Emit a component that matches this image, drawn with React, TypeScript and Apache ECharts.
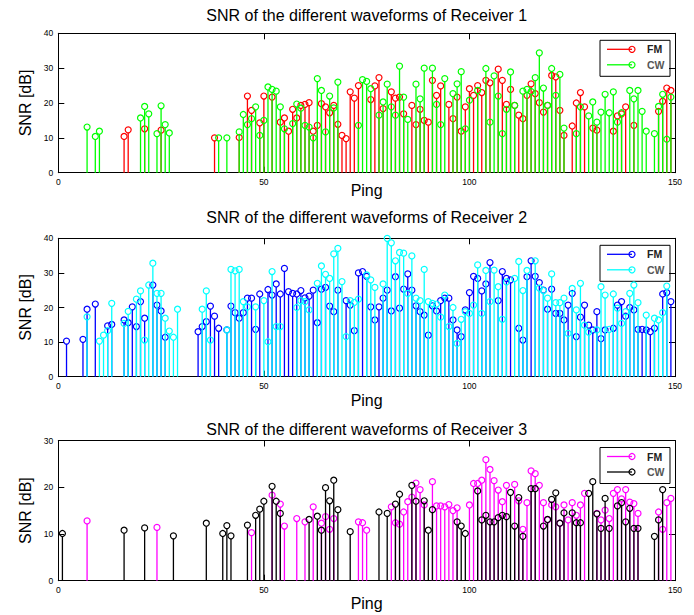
import React, { useEffect, useRef } from "react";
import * as echarts from "echarts";

// Ping axis ticks
const pingTicks = [0, 50, 100, 150];
const titles = [
  "SNR of the different waveforms of Receiver 1",
  "SNR of the different waveforms of Receiver 2",
  "SNR of the different waveforms of Receiver 3",
];
const legendNames = ["FM", "CW"];
const yMax = [40, 40, 30];

// Receiver 1 [ping, SNR dB]
const r1Fm: [number, number][] = [
  [16, 10.4], [17, 12.3], [21, 12.6], [25, 12.2], [38, 10], [44, 10.1], [46, 22], [47, 17.9], [49, 14.3], [50, 22],
  [52, 21.7], [54, 14.5], [55, 15.7], [56, 11.9], [57, 18.2], [58, 15.7], [59, 19.3], [60, 19.6], [61, 20.1], [62, 11.9],
  [63, 13.6], [64, 19.8], [65, 18.9], [66, 17.2], [67, 19.3], [68, 13.9], [69, 10.7], [70, 9.8], [71, 23.2], [72, 21.4],
  [73, 25], [76, 21], [77, 24.9], [78, 27.3], [79, 18.4], [81, 23.2], [82, 21.4], [83, 21.7], [84, 16.9], [86, 19.3],
  [87, 13.8], [88, 18.2], [89, 15], [90, 14.5], [91, 26.5], [92, 22.2], [93, 24.9], [95, 19.6], [96, 15.5], [97, 21.7],
  [98, 11.9], [99, 18.9], [100, 24.1], [101, 22.2], [102, 25], [103, 23], [104, 26.5], [105, 25.8], [107, 29.7], [108, 26.5],
  [109, 19.6], [110, 23.9], [111, 19.3], [112, 16.5], [113, 15.5], [114, 22.2], [115, 25.5], [116, 22.7], [117, 20.1], [118, 17.4],
  [119, 19.3], [120, 27.9], [121, 27.5], [122, 17.9], [123, 10.7], [125, 13.4], [126, 20], [127, 23], [128, 18.9], [130, 12.8],
  [131, 12.2], [135, 11.9], [136, 16.3], [137, 16.9], [138, 18.9], [140, 13.6], [146, 17.6], [147, 20.5], [148, 24.3], [149, 23.6],
];
const r1Cw: [number, number][] = [
  [7, 13.1], [9, 10.4], [10, 11.9], [20, 15.7], [21, 19], [22, 16.9], [24, 11.2], [25, 19.2], [26, 13.8], [27, 11.4],
  [39, 10], [41, 10], [44, 11.7], [45, 16.7], [46, 13.8], [47, 15.5], [48, 18.9], [49, 10.7], [50, 15], [51, 24.6],
  [52, 23.9], [53, 23.4], [54, 18.9], [55, 12.6], [57, 14.1], [58, 19.7], [59, 18.5], [60, 13.6], [61, 13.1], [62, 10],
  [63, 27], [64, 23.6], [65, 11.7], [66, 22], [67, 18.6], [68, 26], [73, 13.6], [74, 26.7], [75, 26.2], [76, 24.1],
  [78, 16.5], [79, 20.3], [80, 25.4], [81, 18.9], [82, 16.5], [83, 30.6], [84, 21.7], [85, 15.3], [87, 25.4], [88, 21.2],
  [89, 30], [91, 30], [92, 19.6], [93, 13.8], [94, 27], [96, 22.7], [97, 25.5], [98, 29], [99, 12.6], [100, 20.8],
  [102, 23.6], [104, 29.9], [105, 14.5], [106, 27.8], [107, 22], [108, 11.2], [109, 18.2], [110, 28.9], [111, 19.3], [113, 23.4],
  [114, 23.9], [115, 23.3], [116, 27.3], [117, 34.4], [118, 24.3], [119, 19.3], [120, 29.9], [121, 22.2], [122, 28.2], [123, 12.8],
  [126, 11.2], [127, 18.9], [129, 16.3], [130, 20.3], [131, 14.5], [132, 17.4], [133, 22.5], [134, 17.2], [135, 23.2], [136, 14.5],
  [137, 17.2], [139, 23.6], [140, 21.2], [141, 23.6], [142, 17.6], [143, 11.9], [145, 11.2], [146, 19], [147, 22.5], [148, 9.6],
  [149, 21.7],
];

// Receiver 2
const r2Fm: [number, number][] = [
  [2, 10.3], [6, 10.8], [7, 19.5], [9, 21], [12, 14.7], [13, 15.1], [16, 16.4], [17, 15.6], [18, 20.2], [19, 14.5],
  [20, 21.7], [21, 16.9], [23, 26.5], [24, 20.7], [25, 19], [26, 11.4], [34, 13], [35, 14.5], [36, 15.9], [37, 20.4],
  [38, 17.5], [39, 14], [41, 13.5], [42, 20.4], [43, 18.5], [44, 16.9], [45, 18.5], [46, 22.7], [47, 22.7], [48, 13.7],
  [49, 23.9], [51, 25.2], [52, 23.6], [53, 26.8], [54, 23.9], [55, 31.3], [56, 24.6], [57, 24.1], [58, 23.9], [59, 24.9],
  [60, 22.8], [61, 23.3], [62, 25], [63, 15.6], [64, 25.3], [65, 25.8], [66, 20.4], [67, 18.8], [68, 25], [70, 22],
  [71, 20.7], [72, 13.3], [73, 30], [74, 30.4], [75, 29], [76, 20.2], [77, 16.4], [78, 20.2], [79, 22.7], [80, 25],
  [81, 19], [82, 28.9], [83, 19.8], [84, 25.3], [85, 29.7], [86, 25], [87, 20.5], [88, 18.8], [89, 17.8], [90, 12],
  [91, 20.5], [92, 19], [93, 22], [94, 22.7], [95, 22.7], [96, 16.4], [97, 13.5], [98, 11.6], [99, 19.3], [100, 24.3],
  [101, 29], [102, 28.4], [103, 24.8], [104, 26.8], [105, 33], [107, 22], [108, 30.4], [109, 28.4], [110, 28], [112, 14],
  [113, 10.6], [114, 28.9], [115, 33.5], [116, 29], [117, 27.2], [118, 25], [119, 19.5], [120, 25.3], [121, 18.3], [122, 18.3],
  [123, 16.4], [124, 20.7], [125, 24.1], [126, 11.6], [127, 17.2], [128, 20.7], [129, 14.9], [130, 13.5], [131, 18.8], [132, 11],
  [133, 13.5], [135, 14], [136, 20.7], [137, 21.7], [138, 17.5], [139, 20], [140, 19.3], [141, 13.7], [142, 13.7], [143, 13.5],
  [144, 13], [145, 14], [147, 23.9], [148, 24.3], [149, 21.7],
];
const r2Cw: [number, number][] = [
  [7, 17.3], [10, 10.3], [11, 12], [12, 13.3], [13, 21.2], [16, 15.4], [17, 18.9], [19, 22.4], [20, 24.8], [21, 10.6],
  [22, 26.5], [23, 32.8], [24, 24.1], [25, 24.1], [26, 16.9], [27, 13.2], [28, 11.4], [29, 19.5], [35, 19.5], [36, 24.8],
  [37, 10.6], [41, 13.5], [42, 31], [43, 30.6], [44, 31], [45, 21.7], [46, 20.2], [48, 20.2], [50, 22], [51, 10.1],
  [52, 30.4], [53, 14.5], [54, 14.5], [58, 20], [59, 22], [60, 21.7], [61, 19.3], [63, 27], [64, 32], [65, 29.6],
  [66, 28.4], [67, 35.5], [68, 37.1], [69, 27.5], [70, 11.6], [71, 22], [72, 21.5], [73, 22.4], [75, 29.4], [76, 28],
  [77, 25.8], [79, 26.8], [80, 40], [81, 38.7], [82, 33.5], [83, 35.9], [84, 35.7], [85, 24.1], [86, 34.9], [87, 22.7],
  [88, 22], [89, 31], [90, 21.7], [91, 21.2], [92, 21], [93, 17.2], [94, 23.6], [95, 14.5], [96, 20], [97, 9.6],
  [98, 16.6], [99, 18.8], [100, 18.3], [101, 20.7], [102, 32.3], [103, 18.3], [104, 30.7], [105, 21.7], [106, 30.8], [107, 26],
  [108, 16.6], [109, 27.4], [111, 28.4], [112, 33.3], [113, 24.9], [114, 30.7], [116, 33.5], [117, 25.6], [118, 24.9], [119, 22.7],
  [120, 29.7], [121, 21.4], [122, 21.4], [123, 22.7], [124, 12.5], [125, 25.5], [126, 19.3], [127, 27], [128, 14.9], [129, 12.9],
  [131, 13.5], [132, 26], [133, 23.6], [134, 13.7], [135, 23.9], [136, 19.8], [137, 15.4], [138, 18.8], [139, 24.1], [140, 26.5],
  [141, 21.4], [143, 17.8], [145, 16.9], [146, 16.4], [147, 18.5], [148, 26.2],
];

// Receiver 3
const r3Fm: [number, number][] = [
  [7, 12.8], [24, 11.4], [47, 10.3], [52, 18.3], [54, 16.4], [55, 11.7], [58, 13.3], [60, 12.6], [62, 15.8], [64, 12.3],
  [65, 13.7], [66, 11], [67, 13.3], [73, 12.6], [74, 12.4], [75, 10.8], [81, 15.8], [82, 12.4], [83, 12.1], [84, 14.7],
  [85, 16.9], [86, 17.9], [87, 20.9], [88, 19.5], [89, 16.2], [91, 21.2], [92, 16], [93, 16], [94, 15.8], [95, 16.3],
  [96, 15], [97, 15.6], [100, 16.2], [101, 20.8], [102, 20.8], [103, 21.5], [104, 25.9], [105, 23.8], [106, 21.4], [107, 19.4],
  [108, 16.9], [109, 20.4], [111, 20.6], [112, 17.1], [113, 11], [114, 16.7], [115, 23.5], [116, 22.9], [117, 20.4], [118, 16.7],
  [119, 13], [120, 16.2], [121, 15.8], [122, 12.3], [123, 16.2], [124, 13], [125, 16.7], [126, 14], [127, 16.2], [128, 18.7],
  [131, 14.4], [132, 13], [133, 15.1], [134, 13.3], [135, 18.7], [136, 19.5], [137, 17.5], [138, 19.5], [139, 16.8], [140, 16.5],
  [141, 14.4], [146, 14.7], [147, 11], [148, 16.7], [149, 17.6],
];
const r3Cw: [number, number][] = [
  [1, 10.1], [16, 10.8], [21, 11.3], [28, 9.6], [36, 12.3], [40, 10.1], [41, 11.8], [42, 9.6], [46, 11.9], [48, 14],
  [49, 15.3], [50, 17], [52, 20.2], [53, 17], [54, 14.4], [61, 13.1], [63, 13.8], [64, 10.8], [65, 19.9], [66, 17.1],
  [67, 21.5], [68, 15.2], [71, 10.5], [78, 14.7], [80, 14.4], [82, 16.4], [83, 18.5], [86, 20.4], [87, 17], [89, 17.1],
  [90, 10.8], [91, 15.2], [97, 12.6], [98, 11.7], [99, 10.1], [102, 19.2], [103, 13], [104, 14], [105, 12.6], [106, 12.6],
  [107, 13.5], [108, 14], [109, 13.7], [110, 18.9], [111, 11.7], [112, 17.8], [113, 9.5], [115, 19.7], [116, 19.7], [118, 11.7],
  [119, 13.1], [120, 17.4], [121, 18.8], [122, 12.3], [123, 14.5], [125, 14.5], [126, 12.4], [127, 12.4], [129, 18.7], [130, 21.2],
  [131, 14.3], [132, 11.2], [133, 17.6], [134, 11.2], [136, 16], [137, 16.7], [138, 12.6], [139, 15.5], [140, 11.2], [141, 11.2],
  [145, 9.5], [146, 13], [147, 19.5],
];

const panels = [
  { fm: r1Fm, cw: r1Cw, fmColor: "#ff0000", cwColor: "#00ff00" },
  { fm: r2Fm, cw: r2Cw, fmColor: "#0000ff", cwColor: "#00ffff" },
  { fm: r3Fm, cw: r3Cw, fmColor: "#ff00ff", cwColor: "#000000" },
];

const W = 694;
const H = 615;
const gridLeft = 58.3;
const gridRight = 675;
const gridTops = [33.3, 238.3, 440.5];
const gridHeights = [139.4, 138.4, 140.2];
const titleY = [17, 219, 431];
const pingNameGap = [10, 16, 15];
const FONT = "'Liberation Sans', Arial, Helvetica, sans-serif";

function stemRenderer(color: string) {
  return (params: any, api: any) => {
    const x = api.value(0);
    const y = api.value(1);
    const p = api.coord([x, y]);
    const b = api.coord([x, 0]);
    return {
      type: "group",
      children: [
        {
          type: "line",
          shape: { x1: p[0], y1: b[1], x2: p[0], y2: p[1] + 3 },
          style: { stroke: color, lineWidth: 1.3 },
        },
        {
          type: "circle",
          shape: { cx: p[0], cy: p[1], r: 3 },
          style: { fill: "none", stroke: color, lineWidth: 1.2 },
        },
      ],
    };
  };
}

function buildOption() {
  const grid: any[] = [];
  const xAxis: any[] = [];
  const yAxis: any[] = [];
  const series: any[] = [];
  const title: any[] = [];
  const graphic: any[] = [];

  panels.forEach((pn, i) => {
    grid.push({
      left: gridLeft,
      width: gridRight - gridLeft,
      top: gridTops[i],
      height: gridHeights[i],
      containLabel: false,
    });
    const axisLine = { show: true, onZero: false, lineStyle: { color: "#000", width: 1 } };
    const tick = { show: true, inside: true, length: 6, lineStyle: { color: "#000" } };
    xAxis.push({
      gridIndex: i,
      type: "value",
      min: 0,
      max: 150,
      interval: 50,
      axisLine,
      axisTick: tick,
      splitLine: { show: false },
      axisLabel: {
        fontSize: 8.5,
        color: "#000",
        margin: 5,
        fontFamily: FONT,
        formatter: (v: number) => (pingTicks.includes(v) ? String(v) : ""),
      },
      name: "Ping",
      nameLocation: "middle",
      nameGap: pingNameGap[i],
      nameMoveOverlap: false,
      nameTextStyle: { fontSize: 16, color: "#000", fontFamily: FONT },
    });
    xAxis.push({
      gridIndex: i,
      type: "value",
      position: "top",
      min: 0,
      max: 150,
      interval: 50,
      axisLine,
      axisTick: tick,
      splitLine: { show: false },
      axisLabel: { show: false },
    });
    yAxis.push({
      gridIndex: i,
      type: "value",
      min: 0,
      max: yMax[i],
      interval: 10,
      axisLine,
      axisTick: tick,
      splitLine: { show: false },
      axisLabel: { fontSize: 8.5, color: "#000", margin: 5, fontFamily: FONT },
      name: "SNR [dB]",
      nameLocation: "middle",
      nameGap: 25,
      nameMoveOverlap: false,
      nameTextStyle: { fontSize: 16, color: "#000", fontFamily: FONT },
    });
    yAxis.push({
      gridIndex: i,
      type: "value",
      position: "right",
      min: 0,
      max: yMax[i],
      interval: 10,
      axisLine,
      axisTick: tick,
      splitLine: { show: false },
      axisLabel: { show: false },
    });
    series.push({
      type: "custom",
      name: `R${i + 1} FM`,
      xAxisIndex: i * 2,
      yAxisIndex: i * 2,
      data: pn.fm,
      encode: { x: 0, y: 1 },
      renderItem: stemRenderer(pn.fmColor),
      clip: false,
      z: 2,
    });
    series.push({
      type: "custom",
      name: `R${i + 1} CW`,
      xAxisIndex: i * 2,
      yAxisIndex: i * 2,
      data: pn.cw,
      encode: { x: 0, y: 1 },
      renderItem: stemRenderer(pn.cwColor),
      clip: false,
      z: 3,
    });
    title.push({
      text: titles[i],
      left: (gridLeft + gridRight) / 2,
      textAlign: "center",
      top: titleY[i] - 10,
      padding: 0,
      textStyle: { fontSize: 16, fontWeight: "normal", color: "#000", fontFamily: FONT },
    });

    // MATLAB-style legend box
    const T = gridTops[i];
    const bx = 600;
    const by = T + 7;
    const rows = [
      { name: legendNames[0], color: pn.fmColor, y: T + 16, textColor: "#222" },
      { name: legendNames[1], color: pn.cwColor, y: T + 31.5, textColor: "#555" },
    ];
    const children: any[] = [
      {
        type: "rect",
        shape: { x: bx, y: by, width: 70, height: 36 },
        style: { fill: "#fff", stroke: "#000", lineWidth: 1 },
      },
    ];
    rows.forEach((r) => {
      children.push({
        type: "line",
        shape: { x1: 607, y1: r.y, x2: 632, y2: r.y },
        style: { stroke: r.color, lineWidth: 1.3 },
      });
      children.push({
        type: "circle",
        shape: { cx: 632, cy: r.y, r: 3 },
        style: { fill: "none", stroke: r.color, lineWidth: 1.2 },
      });
      children.push({
        type: "text",
        x: 647,
        y: r.y,
        style: {
          text: r.name,
          fill: r.textColor,
          font: `bold 10.5px ${FONT}`,
          textVerticalAlign: "middle",
          verticalAlign: "middle",
        },
      });
    });
    graphic.push({ type: "group", z: 100, children });
  });

  return {
    animation: false,
    backgroundColor: "#fff",
    title,
    grid,
    xAxis,
    yAxis,
    series,
    graphic,
  };
}

export default function App() {
  const ref = useRef<HTMLDivElement>(null);
  useEffect(() => {
    if (!ref.current) return;
    const chart = echarts.init(ref.current, null, { renderer: "svg" });
    chart.setOption(buildOption() as any);
    return () => chart.dispose();
  }, []);
  return (
    <div
      ref={ref}
      style={{ position: "fixed", left: 0, top: 0, width: W, height: H, background: "#fff" }}
    />
  );
}
